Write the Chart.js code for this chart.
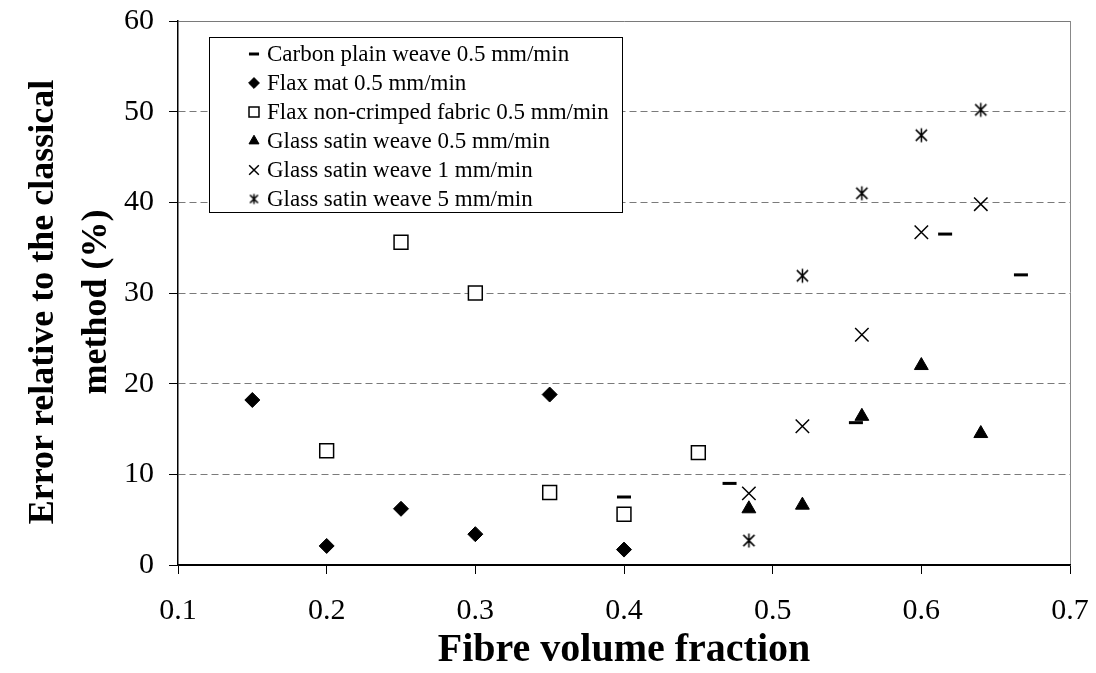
<!DOCTYPE html>
<html>
<head>
<meta charset="utf-8">
<script src="https://cdn.jsdelivr.net/npm/chart.js@4.4.0/dist/chart.umd.min.js"></script>
<style>
  body { margin: 0; background: #fff; }
  #wrap { width: 1096px; height: 673px; }
</style>
</head>
<body>
<div id="wrap"><canvas id="error-chart"></canvas></div>
<script>
// Data
const fvfCarbon = [0.40, 0.471, 0.556, 0.616, 0.667];
const errCarbon = [7.5, 9.0, 15.7, 36.5, 32.0];

const fvfFlaxMat = [0.15, 0.20, 0.25, 0.30, 0.35, 0.40];
const errFlaxMat = [18.2, 2.1, 6.2, 3.4, 18.8, 1.7];

const fvfFlaxNcf = [0.20, 0.25, 0.30, 0.35, 0.40, 0.45];
const errFlaxNcf = [12.6, 35.6, 30.0, 8.0, 5.6, 12.4];

const fvfGlass = [0.484, 0.52, 0.56, 0.60, 0.64];
const errGlass05 = [6.2, 6.6, 16.4, 22.0, 14.5];
const errGlass1 = [7.9, 15.3, 25.4, 36.7, 39.8];
const errGlass5 = [2.7, 31.9, 41.0, 47.4, 50.2];

const seriesNames = [
  "Carbon plain weave 0.5 mm/min",
  "Flax mat 0.5 mm/min",
  "Flax non-crimped fabric 0.5 mm/min",
  "Glass satin weave 0.5 mm/min",
  "Glass satin weave 1 mm/min",
  "Glass satin weave 5 mm/min",
];

const FONT = "'Liberation Serif', 'Times New Roman', serif";

function toPoints(xs, ys) {
  return xs.map((x, i) => ({ x: x, y: ys[i] }));
}

// asterisk marker (x plus vertical bar)
function makeStar(size) {
  const c = document.createElement("canvas");
  c.width = size;
  c.height = size;
  const g = c.getContext("2d");
  const m = size / 2;
  const r = size / 2 - 1.5;
  g.strokeStyle = "#000";
  g.lineWidth = 1.5;
  g.beginPath();
  g.moveTo(m - r * 0.8, m - r * 0.8); g.lineTo(m + r * 0.8, m + r * 0.8);
  g.moveTo(m + r * 0.8, m - r * 0.8); g.lineTo(m - r * 0.8, m + r * 0.8);
  g.moveTo(m, m - r); g.lineTo(m, m + r);
  g.stroke();
  return c;
}
const starBig = makeStar(17);
const starSmall = makeStar(13);

const datasets = [
  { data: toPoints(fvfCarbon, errCarbon), pointStyle: "line", pointRadius: 7, borderWidth: 3, borderColor: "#000", backgroundColor: "#000" },
  { data: toPoints(fvfFlaxMat, errFlaxMat), pointStyle: "rectRot", pointRadius: 7.5, borderWidth: 1, borderColor: "#000", backgroundColor: "#000" },
  { data: toPoints(fvfFlaxNcf, errFlaxNcf), pointStyle: "rect", pointRadius: 9.8, borderWidth: 1.5, borderColor: "#000", backgroundColor: "#fff" },
  { data: toPoints(fvfGlass, errGlass05), pointStyle: "triangle", pointRadius: 8, borderWidth: 1, borderColor: "#000", backgroundColor: "#000" },
  { data: toPoints(fvfGlass, errGlass1), pointStyle: "crossRot", pointRadius: 9.5, borderWidth: 1.5, borderColor: "#000", backgroundColor: "#000" },
  { data: toPoints(fvfGlass, errGlass5), pointStyle: starBig, pointRadius: 8, borderWidth: 1, borderColor: "#000", backgroundColor: "#000" },
];
datasets.forEach((d, i) => { d.label = seriesNames[i]; });

// legend box drawn inside the plot area
const boxLegend = {
  id: "boxLegend",
  afterDatasetsDraw(chart) {
    const ctx = chart.ctx;
    const left = 209, top = 37, right = 622, bottom = 212;
    ctx.save();
    ctx.fillStyle = "#fff";
    ctx.fillRect(left, top, right - left, bottom - top);
    ctx.strokeStyle = "#000";
    ctx.lineWidth = 1;
    ctx.strokeRect(left + 0.5, top + 0.5, right - left, bottom - top);
    const rowH = 29;
    chart.data.datasets.forEach((ds, i) => {
      const y = top + 17 + i * rowH;
      ctx.fillStyle = ds.backgroundColor;
      ctx.strokeStyle = ds.borderColor;
      ctx.lineWidth = ds.pointStyle === "line" ? 3 : ds.borderWidth;
      const style = ds.pointStyle === starBig ? starSmall : ds.pointStyle;
      Chart.helpers.drawPoint(ctx, {
        pointStyle: style,
        rotation: 0,
        radius: ds.pointRadius * 0.72,
        borderWidth: ctx.lineWidth,
      }, 254, y);
      ctx.fillStyle = "#000";
      ctx.font = "23px " + FONT;
      ctx.textBaseline = "middle";
      ctx.textAlign = "left";
      ctx.fillText(ds.label, 267, y + 1);
    });
    ctx.restore();
  },
};

new Chart(document.getElementById("error-chart").getContext("2d"), {
  type: "scatter",
  data: { datasets: datasets },
  options: {
    responsive: true,
    maintainAspectRatio: false,
    animation: false,
    layout: { padding: { top: 21, right: 26, bottom: 0, left: 0 } },
    plugins: {
      legend: { display: false },
      tooltip: { enabled: false },
    },
    scales: {
      x: {
        type: "linear",
        min: 0.1,
        max: 0.7,
        afterFit: (scale) => {
          scale.height = 108;
          scale.paddingLeft = 0;
          scale.paddingRight = 0;
        },
        ticks: {
          stepSize: 0.1,
          color: "#000",
          padding: 19,
          font: { family: FONT, size: 30 },
          callback: (v) => v.toFixed(1),
        },
        grid: {
          drawOnChartArea: true,
          color: (c) => (c.tick && c.tick.value > 0.69 ? "#888" : "rgba(0,0,0,0)"),
          tickColor: "#000",
          tickLength: 9,
        },
        border: { color: "#000", width: 1.5 },
        title: {
          display: true,
          text: "Fibre volume fraction",
          color: "#000",
          padding: { top: 0, bottom: 0 },
          font: { family: FONT, size: 40, weight: "bold", lineHeight: 1.1 },
        },
      },
      y: {
        min: 0,
        max: 60,
        afterFit: (scale) => {
          scale.width = 178;
          scale.paddingTop = 0;
          scale.paddingBottom = 0;
        },
        ticks: {
          stepSize: 10,
          color: "#000",
          padding: 15,
          font: { family: FONT, size: 30 },
        },
        grid: {
          color: (c) => (c.tick && c.tick.value === 0 ? "#000" : "#7a7a7a"),
          tickColor: "#000",
          tickLength: 9,
        },
        border: {
          color: "#000",
          width: 1.5,
          dash: (c) => (c.tick && c.tick.value > 0 && c.tick.value < 60 ? [7, 4] : []),
        },
        title: {
          display: true,
          // trailing spaces nudge the rotated text a little lower, as in the figure
          text: ["Error relative to the classical  ", "method (%)  "],
          color: "#000",
          padding: { top: 17, bottom: 0 },
          font: { family: FONT, size: 36, weight: "bold", lineHeight: 1.48 },
        },
      },
    },
  },
  plugins: [boxLegend],
});
</script>
</body>
</html>
